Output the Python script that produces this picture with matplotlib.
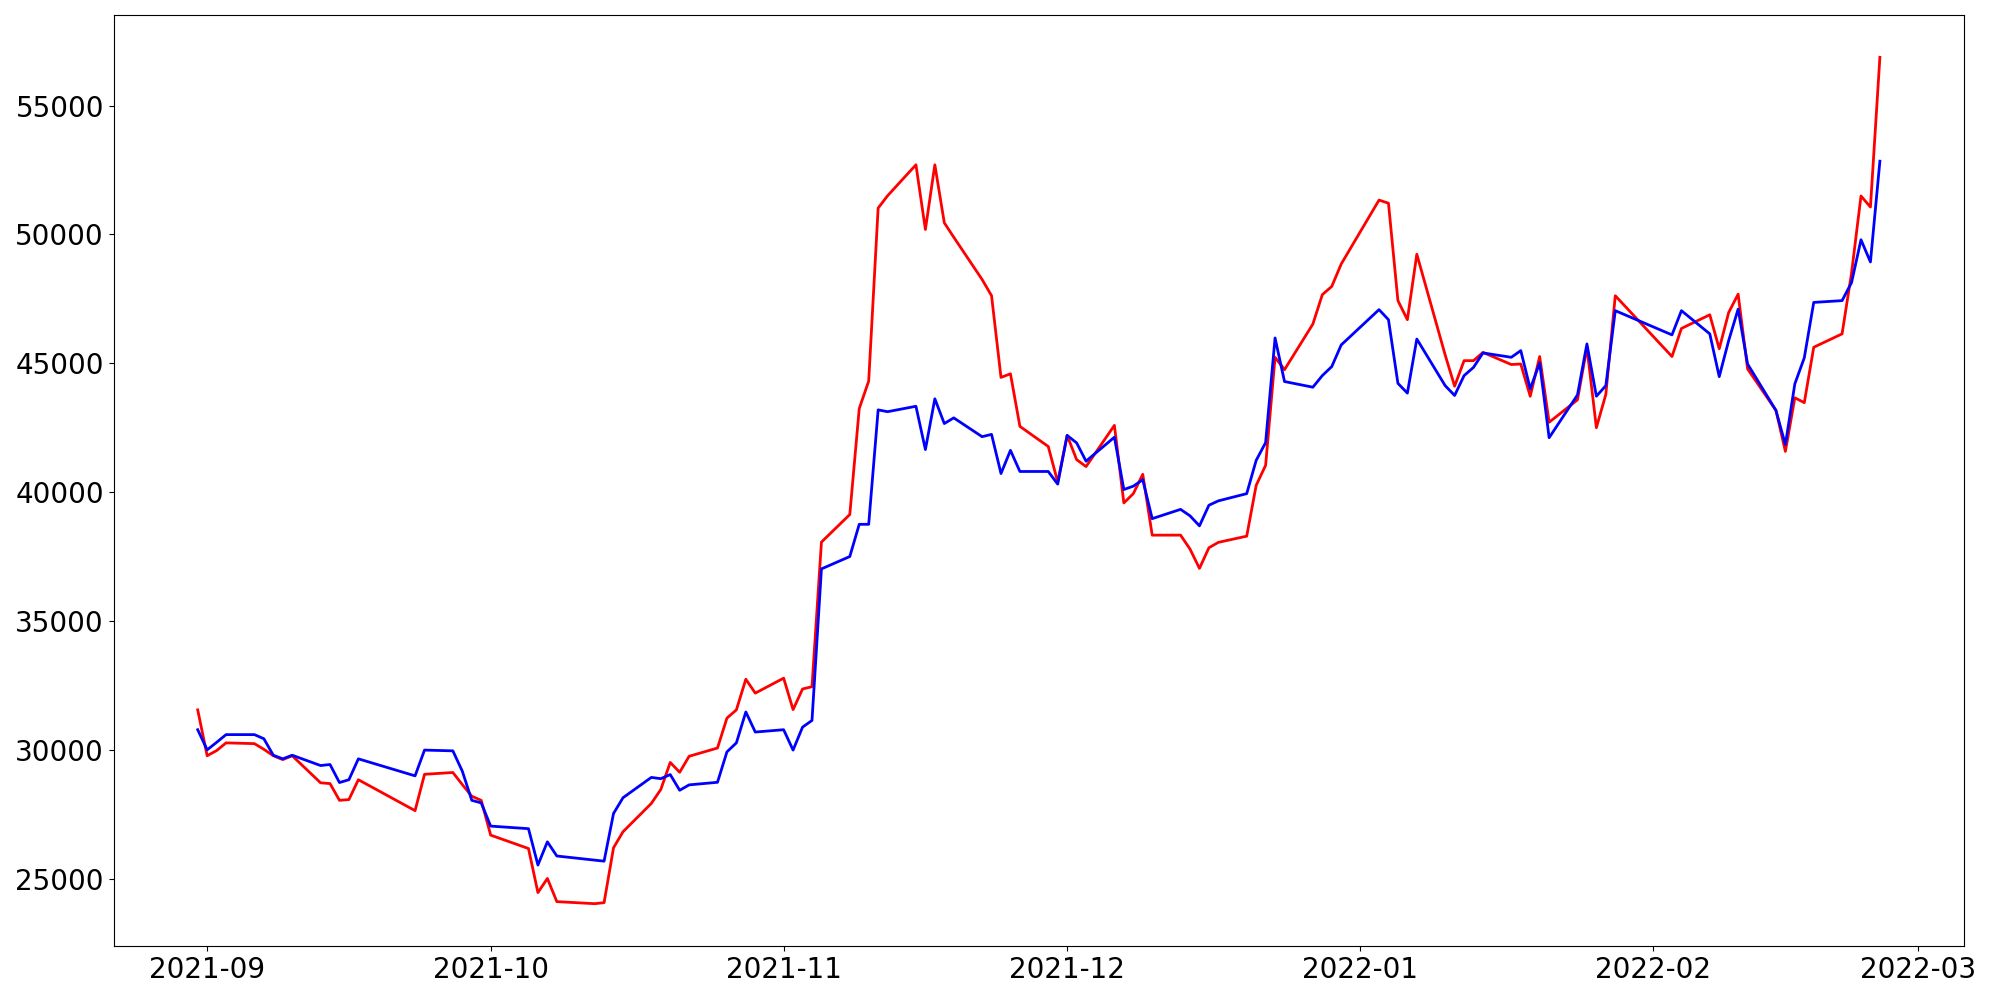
#!/usr/bin/env python
"""Plot two daily price series (red / blue) over Sep 2021 - Feb 2022."""

from __future__ import annotations

import matplotlib

matplotlib.use("Agg")
import matplotlib.pyplot as plt
import pandas as pd

# Trading days (KRX calendar)
dates = [
    "2021-08-31", "2021-09-01", "2021-09-02", "2021-09-03", "2021-09-06",
    "2021-09-07", "2021-09-08", "2021-09-09", "2021-09-10", "2021-09-13",
    "2021-09-14", "2021-09-15", "2021-09-16", "2021-09-17", "2021-09-23",
    "2021-09-24", "2021-09-27", "2021-09-28", "2021-09-29", "2021-09-30",
    "2021-10-01", "2021-10-05", "2021-10-06", "2021-10-07", "2021-10-08",
    "2021-10-12", "2021-10-13", "2021-10-14", "2021-10-15", "2021-10-18",
    "2021-10-19", "2021-10-20", "2021-10-21", "2021-10-22", "2021-10-25",
    "2021-10-26", "2021-10-27", "2021-10-28", "2021-10-29",
    "2021-11-01", "2021-11-02", "2021-11-03", "2021-11-04", "2021-11-05",
    "2021-11-08", "2021-11-09", "2021-11-10", "2021-11-11", "2021-11-12",
    "2021-11-15", "2021-11-16", "2021-11-17", "2021-11-18", "2021-11-19",
    "2021-11-22", "2021-11-23", "2021-11-24", "2021-11-25", "2021-11-26",
    "2021-11-29", "2021-11-30",
    "2021-12-01", "2021-12-02", "2021-12-03", "2021-12-06", "2021-12-07",
    "2021-12-08", "2021-12-09", "2021-12-10", "2021-12-13", "2021-12-14",
    "2021-12-15", "2021-12-16", "2021-12-17", "2021-12-20", "2021-12-21",
    "2021-12-22", "2021-12-23", "2021-12-24", "2021-12-27", "2021-12-28",
    "2021-12-29", "2021-12-30",
    "2022-01-03", "2022-01-04", "2022-01-05", "2022-01-06", "2022-01-07",
    "2022-01-10", "2022-01-11", "2022-01-12", "2022-01-13", "2022-01-14",
    "2022-01-17", "2022-01-18", "2022-01-19", "2022-01-20", "2022-01-21",
    "2022-01-24", "2022-01-25", "2022-01-26", "2022-01-27", "2022-01-28",
    "2022-02-03", "2022-02-04", "2022-02-07", "2022-02-08", "2022-02-09",
    "2022-02-10", "2022-02-11", "2022-02-14", "2022-02-15", "2022-02-16",
    "2022-02-17", "2022-02-18", "2022-02-21", "2022-02-22", "2022-02-23",
    "2022-02-24", "2022-02-25",
]

red_values = [
    31550, 29770, 29970, 30270, 30240, 30020, 29770, 29620, 29770, 28720,
    28690, 28040, 28070, 28840, 27640, 29050, 29120, 28650, 28200, 28040,
    26690, 26170, 24460, 25010, 24110, 24030, 24070, 26200, 26820, 27920,
    28460, 29510, 29130, 29750, 30070, 31230, 31550, 32740, 32200,
    32780, 31560, 32360, 32450, 38060, 39130, 43240, 44310, 51020, 51500,
    52700, 50190, 52700, 50450, 49890, 48250, 47620, 44450, 44590, 42550,
    41770, 40390,
    42200, 41260, 40990, 42590, 39580, 39940, 40690, 38330, 38330, 37790,
    37040, 37840, 38050, 38290, 40260, 41040, 45230, 44750, 46520, 47660,
    47980, 48850,
    51330, 51210, 47430, 46690, 49230, 45320, 44110, 45100, 45100, 45420,
    44950, 44970, 43720, 45260, 42710, 43580, 45620, 42500, 43790, 47620,
    45260, 46350, 46880, 45560, 46970, 47680, 44780, 43170, 41580, 43660,
    43470, 45620, 46140, 48500, 51490, 51060, 56870,
]

blue_values = [
    30780, 30000, 30290, 30590, 30590, 30430, 29790, 29650, 29790, 29390,
    29430, 28730, 28840, 29650, 28990, 29990, 29960, 29170, 28040, 27940,
    27040, 26940, 25530, 26430, 25880, 25720, 25680, 27530, 28140, 28930,
    28880, 29040, 28430, 28640, 28740, 29920, 30270, 31470, 30690,
    30780, 29990, 30880, 31140, 37020, 37500, 38750, 38750, 43190, 43120,
    43330, 41650, 43620, 42660, 42880, 42150, 42240, 40720, 41620, 40800,
    40800, 40310,
    42200, 41910, 41200, 42130, 40100, 40230, 40480, 38970, 39330, 39080,
    38690, 39490, 39660, 39940, 41230, 41920, 45980, 44290, 44070, 44520,
    44870, 45710,
    47080, 46690, 44220, 43840, 45940, 44130, 43750, 44520, 44840, 45400,
    45230, 45490, 44010, 45010, 42110, 43770, 45750, 43720, 44130, 47040,
    46100, 47040, 46140, 44480, 45880, 47100, 44970, 43170, 41840, 44200,
    45210, 47360, 47430, 48130, 49790, 48930, 52840,
]


def plot_series(df: pd.DataFrame):
    """Draw the red and blue lines on one axis."""
    fig, ax = plt.subplots(figsize=(20, 10), dpi=100)
    fig.subplots_adjust(left=0.0568, right=0.982, bottom=0.054, top=0.985)

    ax.plot(df.index, df["red"], color="red", linewidth=2)
    ax.plot(df.index, df["blue"], color="blue", linewidth=2)

    ax.tick_params(axis="both", labelsize=20)

    return fig, ax


def main() -> None:
    df = pd.DataFrame(
        {"red": red_values, "blue": blue_values},
        index=pd.to_datetime(dates),
    )
    fig, ax = plot_series(df)
    fig.savefig("out.png", dpi=100)
    plt.close(fig)


if __name__ == "__main__":
    main()
